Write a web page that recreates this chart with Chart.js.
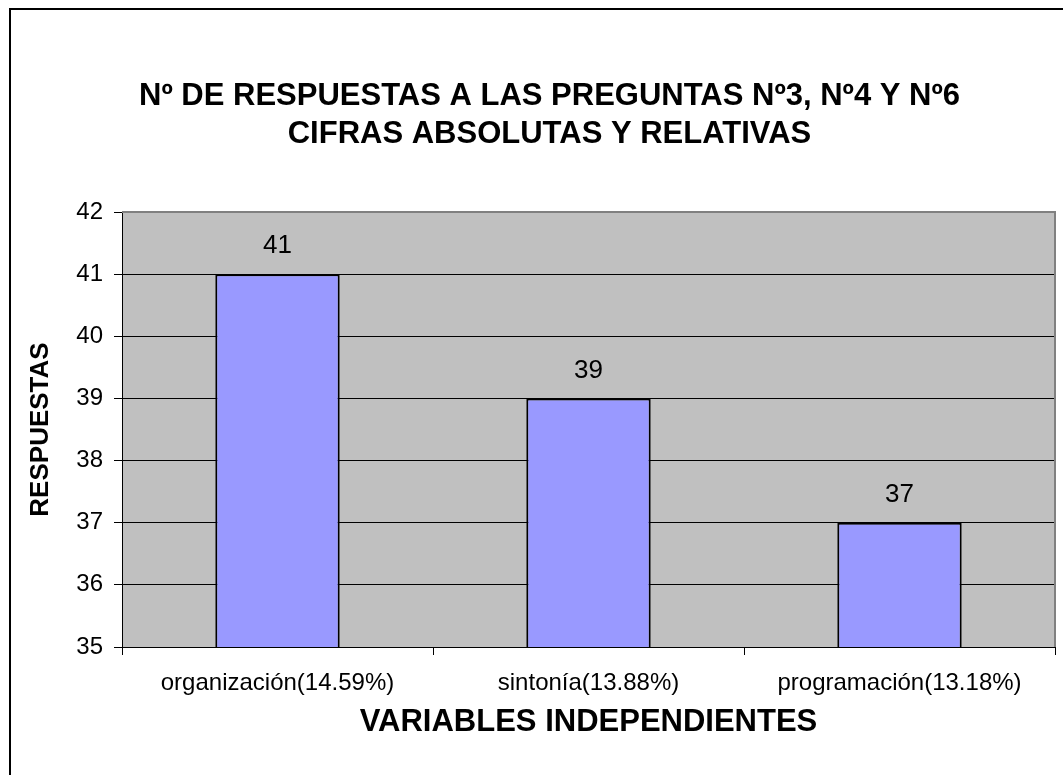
<!DOCTYPE html>
<html>
<head>
<meta charset="utf-8">
<script src="https://cdn.jsdelivr.net/npm/chart.js@4/dist/chart.umd.min.js"></script>
<style>
    html, body { margin: 0; padding: 0; background: #ffffff; }
</style>
</head>
<body>
<canvas id="chartRespuestas" width="1063" height="775"></canvas>
<script>
// Datos
const categorias = ['organización(14.59%)', 'sintonía(13.88%)', 'programación(13.18%)'];
const respuestas = [41, 39, 37];
const lineasTitulo = ['Nº DE RESPUESTAS A LAS PREGUNTAS Nº3, Nº4 Y Nº6', 'CIFRAS ABSOLUTAS Y RELATIVAS'];
const tituloEjeY = 'RESPUESTAS';
const tituloEjeX = 'VARIABLES INDEPENDIENTES';
const minimoY = 35;
const maximoY = 42;
const pasoY = 1;

const fuente = "'Liberation Sans', Arial, sans-serif";

// Fondo blanco, marco exterior y área gris del gráfico
const pluginFondo = {
    id: 'fondo',
    afterLayout(chart) {
        // el título va un poco desplazado a la derecha
        if (chart.titleBlock) chart.titleBlock.left += 16;
    },
    beforeDraw(chart) {
        const { ctx, chartArea: a } = chart;
        ctx.save();
        ctx.fillStyle = '#ffffff';
        ctx.fillRect(0, 0, chart.width, chart.height);
        ctx.fillStyle = '#000000';
        ctx.fillRect(9, 8, 2, chart.height - 8);
        ctx.fillRect(9, 8, chart.width - 9, 2);
        ctx.fillStyle = '#c0c0c0';
        ctx.fillRect(a.left, a.top, a.right - a.left, a.bottom - a.top);
        ctx.restore();
    },
    beforeDatasetsDraw(chart) {
        const { ctx, chartArea: a } = chart;
        ctx.save();
        ctx.strokeStyle = '#808080';
        ctx.lineWidth = 2;
        ctx.beginPath();
        ctx.moveTo(a.left, a.top);
        ctx.lineTo(a.right, a.top);
        ctx.lineTo(a.right, a.bottom);
        ctx.stroke();
        ctx.restore();
    }
};

// Valores encima de cada barra
const pluginValores = {
    id: 'valores',
    afterDatasetsDraw(chart) {
        const { ctx } = chart;
        const meta = chart.getDatasetMeta(0);
        ctx.save();
        ctx.fillStyle = '#000000';
        ctx.font = '26px ' + fuente;
        ctx.textAlign = 'center';
        ctx.textBaseline = 'middle';
        meta.data.forEach((barra, i) => {
            ctx.fillText(String(respuestas[i]), barra.x, barra.y - 28);
        });
        ctx.restore();
    }
};

const ctx = document.getElementById('chartRespuestas').getContext('2d');

new Chart(ctx, {
    type: 'bar',
    data: {
        labels: categorias,
        datasets: [{
            label: tituloEjeY,
            data: respuestas,
            backgroundColor: '#9999ff',
            borderColor: '#000000',
            borderWidth: 2,
            categoryPercentage: 1,
            barPercentage: 0.4
        }]
    },
    options: {
        responsive: false,
        animation: false,
        devicePixelRatio: 1,
        layout: { padding: { left: 28, right: 8, top: 0, bottom: 0 } },
        plugins: {
            legend: { display: false },
            tooltip: { enabled: false },
            title: {
                display: true,
                text: lineasTitulo,
                color: '#000000',
                font: { family: fuente, size: 31, weight: 'bold', lineHeight: 38 / 31 },
                padding: { top: 77, bottom: 59 }
            }
        },
        scales: {
            x: {
                afterFit: (escala) => { escala.height = 128; },
                grid: {
                    drawOnChartArea: false,
                    drawTicks: true,
                    tickLength: 8,
                    tickColor: '#000000'
                },
                border: { color: '#000000', width: 1 },
                ticks: {
                    color: '#000000',
                    padding: 14,
                    maxRotation: 0,
                    font: { family: fuente, size: 24 }
                },
                title: {
                    display: true,
                    text: tituloEjeX,
                    color: '#000000',
                    font: { family: fuente, size: 31, weight: 'bold', lineHeight: 1.2 },
                    padding: { top: 0, bottom: 34 }
                }
            },
            y: {
                min: minimoY,
                max: maximoY,
                afterFit: (escala) => { escala.width = 94; },
                grid: {
                    color: (c) => (c.tick && c.tick.value === maximoY) ? '#808080' : '#000000',
                    lineWidth: 1,
                    drawTicks: true,
                    tickLength: 8,
                    tickColor: '#000000'
                },
                border: { color: '#000000', width: 1 },
                ticks: {
                    stepSize: pasoY,
                    color: '#000000',
                    padding: 11,
                    font: { family: fuente, size: 24 }
                },
                title: {
                    display: true,
                    text: tituloEjeY,
                    color: '#000000',
                    font: { family: fuente, size: 26, weight: 'bold', lineHeight: 1 },
                    padding: { top: 0, bottom: 0 }
                }
            }
        }
    },
    plugins: [pluginFondo, pluginValores]
});
</script>
</body>
</html>
